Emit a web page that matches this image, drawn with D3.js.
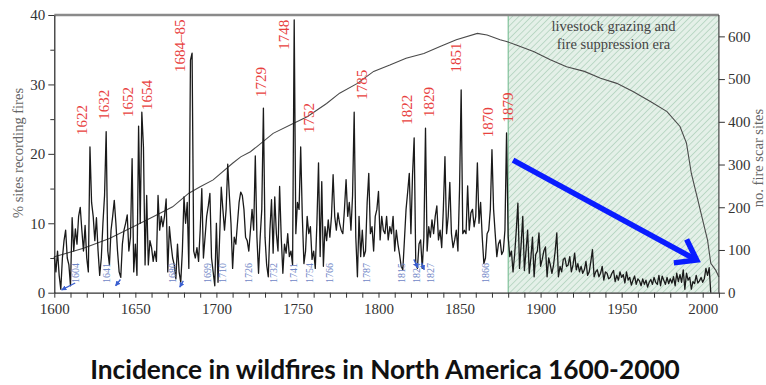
<!DOCTYPE html>
<html><head><meta charset="utf-8">
<script src="https://cdn.jsdelivr.net/npm/d3@7"></script>
<style>body{margin:0;background:#fff}svg{display:block}</style>
</head><body>
<svg id="c" width="766" height="385"></svg>
<script>
// ---- data ----
const startYear = 1600;
const fireValues = [
 5.2,3,6,2.5,0.5,5,7.5,9,5,4,
 1,10.8,6,9.2,7,11,12.3,9,6,9.7,
 5,3,21,13,11,7.5,10.8,6,2.5,5,
 10,14,23.2,6,4,9,11,13.3,10,6,
 3,2.2,7,9,10,11.2,6,8,19.3,3,
 7,2.5,24,10,26,21,4,14,4,7.5,
 6.5,4.5,6,4.5,14,9,11,9.5,11,13.5,
 3,9.5,7,5,4,2,7,3,1.5,6,
 13.8,10,13,3.5,33.5,34.5,6,5,6.5,4.5,
 9,15,5,8,11,12.5,14.3,5,3,1,
 10,1.5,8,15.2,12,9,12,18.5,14,10,
 3.5,8,7,10,13,14.5,14,12,8,7.5,
 6,9,12,9,19.7,8,2.8,8,12,26.6,
 8,4,2.3,9,13.4,5.7,13.8,8.5,6,15.3,
 8,2.8,7,5.7,8.5,5.2,6,4,39.3,8.5,
 13,12,21,11,4.2,6,11,8.5,9.5,4.8,
 6,3.5,10,18.7,5.2,16,3.8,9.5,7.5,10.5,
 8,11,17,11,9,11.5,10,9,8.5,12,
 16.3,11,13,9,14,26,8,2.3,11,5.2,
 9,5.2,6,13,17.2,8.5,9.5,6,11,12,
 14.6,7.6,11,9,8.5,11,7.6,9.5,8.5,11,
 6,9,7,5.5,3.8,3.3,7.6,12,14.5,17.2,
 8.5,17,22.3,4.2,3.5,7,7.6,3.5,8,23.7,
 6,9.5,8,10.5,8.5,11,12.5,7.6,9,6.5,
 12,19.6,8.5,11,15.9,8.5,6.5,7.6,9,6,
 15,29.2,8.5,9,8.5,15.4,9,11.5,12,9.5,
 11,18.7,10,13,8,4.2,5,8.5,9,12,
 20.6,12,8.5,5.2,7,7.6,5.5,6,9,23,
 8,5.2,6,3,5.5,9,12.9,3.5,7,11,
 3.2,6,9,2.8,5,8,2.3,5.5,6,8.6,
 3.8,4.8,6,6.6,2.3,5,4,2.8,4,6,
 8.6,2.3,3.8,3,4.8,5,3.8,4,5.2,3,
 4,5.7,3.3,4.2,3,3.8,2.8,3.3,4.5,2.5,
 3,4.5,6.2,2.3,3,3.3,2.3,2.8,3.8,1.8,
 3,2.8,2,2.2,2.8,3.2,1.6,2.5,1.8,3,
 2.2,2.6,1.4,3,1.8,2.2,1.1,1.8,2.4,1.2,
 2,1.7,1,2,1.2,1.8,0.8,1.5,1.9,1.2,
 2.2,1.5,1.2,2.5,1,2.4,1.8,1.2,2.2,1.3,
 2,1.4,2.3,1,2.8,1.6,2.6,1.5,3.3,0.5,
 2.8,1.8,2.2,0.5,1.6,1.3,2.5,1.4,1.7,2.2,
 1.5,2,3.5,2.5,3.6,0
];
const siteYears = [1600,1618,1634,1649,1661,1673,1683,1690,1698,1710,1715,1721,1725,1735,1748,1756,1768,1776,1787,1797,1807,1817,1828,1838,1848,1861,1867,1875,1879,1885,1896,1906,1916,1927,1937,1947,1957,1968,1978,1986,1990,1993,1997,2000,2003,2005,2008,2010];
const siteCounts = [84,104,127,155,178,201,233,248,264,303,318,330,342,373,397,412,443,467,490,518,533,549,560,576,592,607,603,592,588,580,564,545,529,518,502,490,471,447,424,389,350,279,217,170,123,69,53,37];

const xTickYears = [1600,1610,1620,1630,1640,1650,1660,1670,1680,1690,1700,1710,1720,1730,1740,1750,1760,1770,1780,1790,1800,1810,1820,1830,1840,1850,1860,1870,1880,1890,1900,1910,1920,1930,1940,1950,1960,1970,1980,1990,2000,2010];
const xLabelYears = [1600,1650,1700,1750,1800,1850,1900,1950,2000];
const leftTicks = [0,10,20,30,40];
const leftMinorTicks = [5,15,25,35];
const rightTicks = [0,100,200,300,400,500,600];

const eraStart = 1880;
const eraLines = ["livestock grazing and","fire suppression era"];

// red peak labels: text, year position, value position (bottom of text)
const redLabels = ["1622","1632","1652","1654","1684–85","1729","1748","1752","1785","1822","1829","1851","1870","1879"];
const redLabelYear = [1616.9,1630.7,1645.5,1657.2,1677.5,1727.3,1741.3,1756.7,1789.6,1817.4,1830.7,1847.8,1867.7,1879.6];
const redLabelVal = [22.7,24.9,25.3,26.3,31.8,28.2,35,23,27.8,24.2,25.3,31.7,22.4,24.5];

// blue low-year labels
const blueLabels = ["1604","1641","1680","1699","1710","1726","1732","1741","1754","1766","1787","1815","1824","1827","1866"];
const blueLabelYear = [1612.8,1632,1672.7,1694.8,1703.9,1719.5,1735.1,1747.4,1757.7,1769.6,1792.7,1814.3,1823.6,1832.2,1866.3];
const blueLabelVal = 1.4;
// small blue pointer arrows: [fromYear, fromVal, toYear, toVal]
const blueArrows = [[1612.9,1.4,1604.5,0.4],[1640.8,1.9,1637.8,1.0],[1679.6,1.7,1677.4,0.8],[1821.8,4.8,1824.2,3.6],[1826.6,4.3,1828.2,3.3]];
// big trend arrow
const trendArrow = [1883, 19.1, 1996.3, 4.7];

const title = "Incidence in wildfires in North America 1600-2000";

// ---- drawing ----
const svg = d3.select("#c");
const x = d3.scaleLinear().domain([1600,2010]).range([54.3,718.9]);
const yL = d3.scaleLinear().domain([0,40]).range([292.7,15]);
const yR = d3.scaleLinear().domain([0,650]).range([292.7,15]);
const serif = "'Liberation Serif','Times New Roman',serif";

const defs = svg.append("defs");
const pat = defs.append("pattern").attr("id","hatch").attr("patternUnits","userSpaceOnUse")
  .attr("width",4.5).attr("height",4.5).attr("patternTransform","rotate(45)");
pat.append("rect").attr("width",4.5).attr("height",4.5).attr("fill","#e4f0e8");
pat.append("line").attr("x1",0).attr("y1",0).attr("x2",0).attr("y2",4.5).attr("stroke","#b3d3bf").attr("stroke-width",1.6);
defs.append("marker").attr("id","bh").attr("viewBox","0 0 10 10").attr("refX",9).attr("refY",5)
  .attr("markerWidth",4).attr("markerHeight",4).attr("orient","auto")
  .append("path").attr("d","M0,0L10,5L0,10z").attr("fill","#3a5fd0");

// era shading
svg.append("rect").attr("x",x(eraStart)).attr("y",yL(40)).attr("width",x(2010)-x(eraStart)).attr("height",yL(0)-yL(40))
  .attr("fill","url(#hatch)");
svg.append("line").attr("x1",x(eraStart)).attr("x2",x(eraStart)).attr("y1",yL(40)).attr("y2",yL(0))
  .attr("stroke","#6db88a").attr("stroke-width",1);

// sites line
const siteData = siteYears.map((yr,i)=>[yr,siteCounts[i]]);
svg.append("path").datum(siteData)
  .attr("d",d3.line().x(d=>x(d[0])).y(d=>yR(d[1])))
  .attr("fill","none").attr("stroke","#4a4a4a").attr("stroke-width",1.1);

// fire line
const fireData = fireValues.map((v,i)=>[startYear+i,v]);
svg.append("path").datum(fireData)
  .attr("d",d3.line().x(d=>x(d[0])).y(d=>yL(d[1])))
  .attr("fill","none").attr("stroke","#1a1a1a").attr("stroke-width",1.3).attr("stroke-linejoin","round");

// frame
svg.append("line").attr("x1",x(1600)).attr("x2",x(2010)).attr("y1",yL(40)).attr("y2",yL(40))
  .attr("stroke","#8a8a8a").attr("stroke-width",2.5);

// axes
const gx = svg.append("g").attr("transform",`translate(0,${yL(0)})`)
  .call(d3.axisBottom(x).tickValues(xTickYears).tickSize(5).tickSizeOuter(0)
    .tickFormat(d=>xLabelYears.includes(d)?String(d):""));
gx.select(".domain").attr("stroke","#333").attr("stroke-width",1.2);
gx.selectAll(".tick line").attr("stroke","#333");
gx.selectAll("text").attr("font-family",serif).attr("font-size",15).attr("fill","#333").attr("dy","0.9em");

const gl = svg.append("g").attr("transform",`translate(${x(1600)},0)`)
  .call(d3.axisLeft(yL).tickValues(leftTicks).tickSize(6).tickSizeOuter(0).tickPadding(3));
gl.select(".domain").attr("stroke","#222").attr("stroke-width",1.2);
gl.selectAll(".tick line").attr("stroke","#333");
gl.selectAll("text").attr("font-family",serif).attr("font-size",15).attr("fill","#333");
const glm = svg.append("g").attr("transform",`translate(${x(1600)},0)`)
  .call(d3.axisLeft(yL).tickValues(leftMinorTicks).tickSize(4).tickFormat(""));
glm.select(".domain").remove();
glm.selectAll(".tick line").attr("stroke","#333");

const gr = svg.append("g").attr("transform",`translate(${x(2010)},0)`)
  .call(d3.axisRight(yR).tickValues(rightTicks).tickSize(6).tickSizeOuter(0).tickPadding(3));
gr.select(".domain").attr("stroke","#444").attr("stroke-width",1.2).attr("d",`M0,${yL(40)}V${yL(0)}`);
gr.selectAll(".tick line").attr("stroke","#333");
gr.selectAll("text").attr("font-family",serif).attr("font-size",15).attr("fill","#333");

// axis titles
svg.append("text").attr("transform",`translate(23,153) rotate(-90)`).attr("text-anchor","middle")
  .attr("font-family",serif).attr("font-size",14.5).attr("fill","#666").text("% sites recording fires");
svg.append("text").attr("transform",`translate(763,158) rotate(-90)`).attr("text-anchor","middle")
  .attr("font-family",serif).attr("font-size",14.5).attr("fill","#666").text("no. fire scar sites");

// era text
svg.append("g").selectAll("text").data(eraLines).join("text")
  .attr("x",(x(eraStart)+x(2010))/2).attr("y",(d,i)=>31+i*18).attr("text-anchor","middle")
  .attr("font-family",serif).attr("font-size",14.5).attr("fill","#444").text(d=>d);

// red labels
svg.append("g").selectAll("text").data(redLabels).join("text")
  .attr("transform",(d,i)=>`translate(${x(redLabelYear[i])},${yL(redLabelVal[i])}) rotate(-90)`)
  .attr("dy","0.35em").attr("font-family",serif).attr("font-size",15).attr("fill","#e8413e").text(d=>d);

// blue labels
svg.append("g").selectAll("text").data(blueLabels).join("text")
  .attr("transform",(d,i)=>`translate(${x(blueLabelYear[i])},${yL(blueLabelVal)}) rotate(-90)`)
  .attr("dy","0.35em").attr("font-family",serif).attr("font-size",10).attr("fill","#6f86c6").text(d=>d);
svg.append("g").selectAll("line").data(blueArrows).join("line")
  .attr("x1",d=>x(d[0])).attr("y1",d=>yL(d[1])).attr("x2",d=>x(d[2])).attr("y2",d=>yL(d[3]))
  .attr("stroke","#3a5fd0").attr("stroke-width",1.3).attr("marker-end","url(#bh)");

// trend arrow
{
  const x1=x(trendArrow[0]), y1=yL(trendArrow[1]), x2=x(trendArrow[2]), y2=yL(trendArrow[3]);
  const ang=Math.atan2(y2-y1,x2-x1)+Math.PI, L=23, spread=0.62;
  const a1=[x2+L*Math.cos(ang-spread), y2+L*Math.sin(ang-spread)];
  const a2=[x2+L*Math.cos(ang+spread), y2+L*Math.sin(ang+spread)];
  svg.append("line").attr("x1",x1).attr("y1",y1).attr("x2",x2-2).attr("y2",y2-1)
    .attr("stroke","#0a1cff").attr("stroke-width",5.5);
  svg.append("path").attr("d",`M${a1}L${x2},${y2}L${a2}`).attr("fill","none")
    .attr("stroke","#0a1cff").attr("stroke-width",5.5).attr("stroke-linejoin","miter");
}

// title
const t = svg.append("text").attr("x",385).attr("y",379).attr("text-anchor","middle")
  .attr("font-family","Lato,'Open Sans',sans-serif").attr("font-weight","bold").attr("font-size",24)
  .attr("fill","#111").text(title);
const w = t.node().getComputedTextLength();
t.attr("font-size",24*590/w);
</script>
</body></html>
